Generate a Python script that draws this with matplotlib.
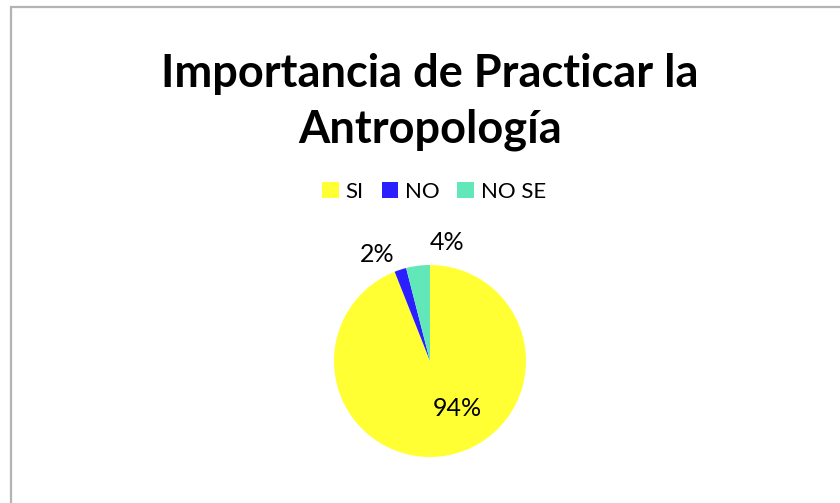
import matplotlib
matplotlib.use('Agg')
import matplotlib.pyplot as plt
from matplotlib.patches import Patch, Rectangle

# data
labels = ['SI', 'NO', 'NO SE']
values = [94, 2, 4]
colors = ['#FFFF33', '#2B1EFF', '#62E8B8']
pct_text = ['94%', '2%', '4%']
# label spots in pie radius units
label_pos = [(0.28, -0.49), (-0.55, 1.11), (0.18, 1.23)]

plt.rcParams['font.family'] = ['Lato', 'DejaVu Sans']

fig = plt.figure(figsize=(8.4, 5.03), dpi=100)
W, H = 840, 503

# chart frame (runs off right and bottom)
fig.patches.append(Rectangle((10.5 / W, -0.1), 1.2, (H - 7.5) / H + 0.1,
                             transform=fig.transFigure, fill=False,
                             edgecolor='#b3b3b3', linewidth=1.6))

fig.text(430 / W, 1 - 74 / H, 'Importancia de Practicar la', ha='center', va='center',
         fontsize=32.5, fontweight='bold')
fig.text(430 / W, 1 - 130 / H, 'Antropología', ha='center', va='center',
         fontsize=32.5, fontweight='bold')

handles = [Patch(facecolor=c, edgecolor='none') for c in colors]
fig.legend(handles, labels, loc='center', bbox_to_anchor=(434 / W, 1 - 192 / H),
           ncol=3, frameon=False, fontsize=16, handlelength=0.75, handleheight=0.75,
           handletextpad=0.3, columnspacing=0.8)

# pie axes: radius 96 px, center (430, 361)
r = 96
cx, cy = 430, H - 361
ax = fig.add_axes([(cx - 1.5 * r) / W, (cy - 1.5 * r) / H, 3 * r / W, 3 * r / H])
ax.pie(values, colors=colors, startangle=90, counterclock=False, radius=1,
       wedgeprops=dict(linewidth=0))
for t, (x, y) in zip(pct_text, label_pos):
    ax.text(x, y, t, ha='center', va='center', fontsize=18)
ax.set_xlim(-1.5, 1.5)
ax.set_ylim(-1.5, 1.5)
ax.set_aspect('equal')
ax.axis('off')

fig.savefig('out.png', dpi=100)
